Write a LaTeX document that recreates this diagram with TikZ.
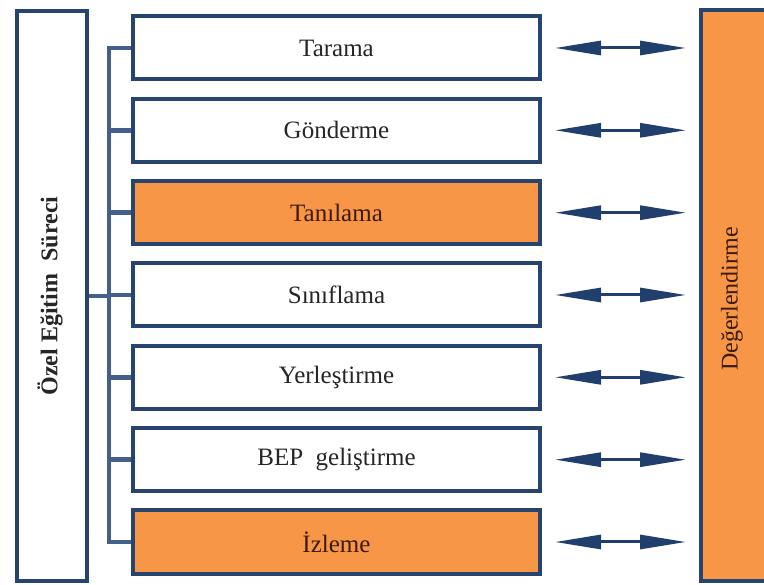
\documentclass[tikz,border=0pt]{standalone}
\usepackage{fontspec}
\setmainfont{Liberation Serif}
\usetikzlibrary{arrows.meta}
\definecolor{navy}{HTML}{26446E}
\definecolor{busblue}{HTML}{455F8C}
\definecolor{arrowblue}{HTML}{213F6C}
\definecolor{orangeF}{HTML}{F79646}
\definecolor{txtgray}{HTML}{262626}
\definecolor{brownT}{HTML}{3E1A0C}
\tikzset{
  stage/.style={draw=navy, line width=4pt, minimum width=407pt, minimum height=63pt,
    inner sep=0pt, fill=white, text=txtgray, font=\fontsize{25}{30}\selectfont},
  hot/.style={stage, fill=orangeF, text=brownT},
  sidebox/.style={draw=navy, line width=4pt, inner sep=0pt},
  bus/.style={draw=busblue, line width=4.5pt},
  biarrow/.style={draw=arrowblue, line width=3pt,
    {Triangle[length=46pt,width=14pt]}-{Triangle[length=46pt,width=14pt]},
    shorten <=13pt, shorten >=13pt}
}
\begin{document}
\begin{tikzpicture}[x=1pt,y=-1pt]
\clip (0,0) rectangle (764,585);
\fill[white] (0,0) rectangle (764,585);
% side boxes
\node[sidebox, fill=white, minimum width=70pt, minimum height=570pt] (L) at (52,296) {};
\node[rotate=90, font=\fontsize{24}{28}\selectfont\bfseries, text=txtgray] (Ltext) at (50,296) {Özel Eğitim~~Süreci};
\node[sidebox, fill=orangeF, minimum width=66pt, minimum height=571pt] (R) at (734,295.5) {};
\node[rotate=90, font=\fontsize{24}{28}\selectfont, text=brownT] (Rtext) at (732,299) {Değerlendirme};
% stages
\node[stage] (s1) at (336.5,48) {Tarama};
\node[stage] (s2) at (336.5,130.3) {Gönderme};
\node[hot]   (s3) at (336.5,212.7) {Tanılama};
\node[stage] (s4) at (336.5,295) {Sınıflama};
\node[stage] (s5) at (336.5,377.3) {Yerleştirme};
\node[stage] (s6) at (336.5,459.7) {BEP~~geliştirme};
\node[hot]   (s7) at (336.5,542) {İzleme};
% bus
\coordinate (bx) at (109,0);
\draw[bus] (s1.west) -- (s1.west -| bx) -- (s7.west -| bx) -- (s7.west);
\foreach \i in {2,...,6}{
  \draw[bus] (s\i.west) -- (s\i.west -| bx);
}
\draw[bus] (L.east) -- (L.east -| bx);
% arrows
\foreach \i in {1,...,7}{
  \draw[biarrow] (s\i.east) -- (s\i.east -| R.west);
}
\end{tikzpicture}
\end{document}
